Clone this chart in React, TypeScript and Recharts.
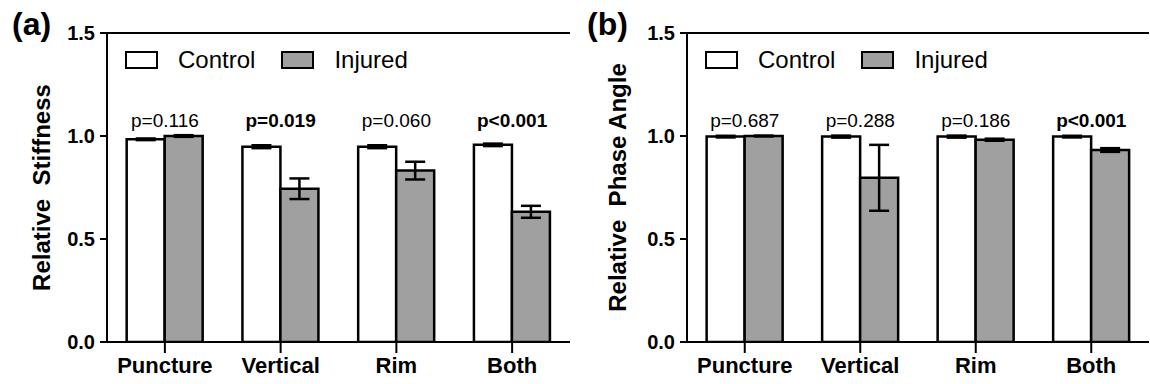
import React from 'react';
import { BarChart, Bar, XAxis, YAxis, ErrorBar, ReferenceDot, ReferenceLine, Legend } from 'recharts';

const FONT = '"Liberation Sans", Arial, Helvetica, sans-serif';

const categories = ['Puncture', 'Vertical', 'Rim', 'Both'];
const seriesNames = ['Control', 'Injured'];
const seriesFills = ['#ffffff', '#a0a0a0'];
const yTicks = [0, 0.5, 1.0, 1.5];

// Panel (a): Relative Stiffness
const stiffnessControl = [0.984, 0.948, 0.948, 0.957];
const stiffnessControlErr = [0.004, 0.007, 0.007, 0.006];
const stiffnessInjured = [1.0, 0.744, 0.832, 0.632];
const stiffnessInjuredErr = [0.004, 0.05, 0.043, 0.029];
const stiffnessPValues = ['p=0.116', 'p=0.019', 'p=0.060', 'p<0.001'];
const stiffnessPBold = [false, true, false, true];

// Panel (b): Relative Phase Angle
const phaseControl = [0.997, 0.997, 0.997, 0.997];
const phaseControlErr = [0.004, 0.005, 0.005, 0.004];
const phaseInjured = [1.0, 0.797, 0.982, 0.932];
const phaseInjuredErr = [0.002, 0.16, 0.005, 0.009];
const phasePValues = ['p=0.687', 'p=0.288', 'p=0.186', 'p<0.001'];
const phasePBold = [false, false, false, true];

const pLabelLevel = 1.045;

function buildRows(c: number[], ce: number[], i: number[], ie: number[]) {
  return categories.map((name, k) => ({
    name,
    control: c[k],
    controlErr: ce[k],
    injured: i[k],
    injuredErr: ie[k],
  }));
}

const stiffnessRows = buildRows(stiffnessControl, stiffnessControlErr, stiffnessInjured, stiffnessInjuredErr);
const phaseRows = buildRows(phaseControl, phaseControlErr, phaseInjured, phaseInjuredErr);

const LegendContent = () => (
  <div
    style={{
      display: 'flex',
      alignItems: 'center',
      fontFamily: FONT,
      fontSize: 24,
      lineHeight: '24px',
      color: '#000',
      whiteSpace: 'nowrap',
    }}
  >
    {seriesNames.map((n, k) => (
      <React.Fragment key={n}>
        <span
          style={{
            display: 'inline-block',
            width: 33,
            height: 18,
            boxSizing: 'border-box',
            border: '2.5px solid #000',
            background: seriesFills[k],
            marginLeft: k === 0 ? 0 : 26,
            marginRight: 20,
          }}
        />
        <span>{n}</span>
      </React.Fragment>
    ))}
  </div>
);

function makeYTitle(title: string, panelLabel: string, titleX: number) {
  return (props: any) => {
    const vb = props.viewBox || { x: 0, y: 33, width: 107, height: 309 };
    const cy = vb.y + vb.height / 2;
    const cx = titleX;
    return (
      <g>
        <text
          x={cx}
          y={cy}
          transform={`rotate(-90 ${cx} ${cy})`}
          textAnchor="middle"
          fontFamily={FONT}
          fontSize={24}
          fontWeight="bold"
          fill="#000"
          style={{ whiteSpace: 'pre' }}
        >
          {title}
        </text>
        <text x={12} y={35} fontFamily={FONT} fontSize={32} fontWeight="bold" fill="#000">
          {panelLabel}
        </text>
      </g>
    );
  };
}

function makePLabel(text: string, bold: boolean) {
  return (props: any) => {
    const vb = props.viewBox || {};
    const x = (vb.x ?? 0) + (vb.width ?? 0) / 2;
    const y = (vb.y ?? 0) + (vb.height ?? 0) / 2;
    return (
      <text
        x={x}
        y={y}
        textAnchor="middle"
        fontFamily={FONT}
        fontSize={19}
        fontWeight={bold ? 'bold' : 'normal'}
        fill="#000"
      >
        {text}
      </text>
    );
  };
}

type PanelProps = {
  rows: any[];
  pValues: string[];
  pBold: boolean[];
  title: string;
  panelLabel: string;
  yAxisWidth: number;
  marginRight: number;
  titleX: number;
};

function Panel({ rows, pValues, pBold, title, panelLabel, yAxisWidth, marginRight, titleX }: PanelProps) {
  return (
    <BarChart
      width={575}
      height={384}
      data={rows}
      margin={{ top: 33, right: marginRight, bottom: 0, left: 0 }}
      barCategoryGap="17%"
      barGap={0}
    >
      <XAxis
        dataKey="name"
        height={42}
        interval={0}
        axisLine={{ stroke: '#000', strokeWidth: 2 }}
        tickLine={{ stroke: '#000', strokeWidth: 2 }}
        tickSize={11}
        tickMargin={4}
        tick={{ fill: '#000', fontSize: 22, fontWeight: 'bold', fontFamily: FONT }}
      />
      <YAxis
        domain={[0, 1.5]}
        ticks={yTicks}
        width={yAxisWidth}
        interval={0}
        allowDataOverflow
        tickFormatter={(v: number) => v.toFixed(1)}
        axisLine={{ stroke: '#000', strokeWidth: 2 }}
        tickLine={{ stroke: '#000', strokeWidth: 2 }}
        tickSize={7}
        tickMargin={5}
        tick={{ fill: '#000', fontSize: 20, fontWeight: 'bold', fontFamily: FONT }}
        label={makeYTitle(title, panelLabel, titleX)}
      />
      <YAxis
        yAxisId="frame"
        orientation="right"
        domain={[0, 1.5]}
        width={0}
        tick={false}
        tickLine={false}
        axisLine={{ stroke: '#000', strokeWidth: 2 }}
      />
      <ReferenceLine y={1.5} stroke="#000" strokeWidth={2} />
      <Bar dataKey="control" fill={seriesFills[0]} stroke="#000" strokeWidth={2.5} isAnimationActive={false}>
        <ErrorBar dataKey="controlErr" width={10} stroke="#000" strokeWidth={2.5} direction="y" isAnimationActive={false} />
      </Bar>
      <Bar dataKey="injured" fill={seriesFills[1]} stroke="#000" strokeWidth={2.5} isAnimationActive={false}>
        <ErrorBar dataKey="injuredErr" width={10} stroke="#000" strokeWidth={2.5} direction="y" isAnimationActive={false} />
      </Bar>
      {rows.map((r, k) => (
        <ReferenceDot
          key={r.name}
          x={r.name}
          y={pLabelLevel}
          r={0}
          fill="none"
          stroke="none"
          label={makePLabel(pValues[k], pBold[k])}
        />
      ))}
      <Legend
        layout="horizontal"
        align="center"
        verticalAlign="middle"
        content={<LegendContent />}
        wrapperStyle={{ position: 'absolute', top: 48, left: yAxisWidth + 18, width: 'auto', right: 'auto', bottom: 'auto' }}
      />
    </BarChart>
  );
}

export default function App() {
  return (
    <div
      style={{
        position: 'absolute',
        left: 0,
        top: 0,
        width: 1150,
        height: 384,
        background: '#fff',
        overflow: 'hidden',
      }}
    >
      <div style={{ position: 'absolute', left: 0, top: 0 }}>
        <Panel
          rows={stiffnessRows}
          pValues={stiffnessPValues}
          pBold={stiffnessPBold}
          title={'Relative  Stiffness'}
          panelLabel="(a)"
          yAxisWidth={107}
          marginRight={5}
          titleX={50}
        />
      </div>
      <div style={{ position: 'absolute', left: 575, top: 0 }}>
        <Panel
          rows={phaseRows}
          pValues={phasePValues}
          pBold={phasePBold}
          title={'Relative  Phase Angle'}
          panelLabel="(b)"
          yAxisWidth={112}
          marginRight={1}
          titleX={51}
        />
      </div>
    </div>
  );
}
